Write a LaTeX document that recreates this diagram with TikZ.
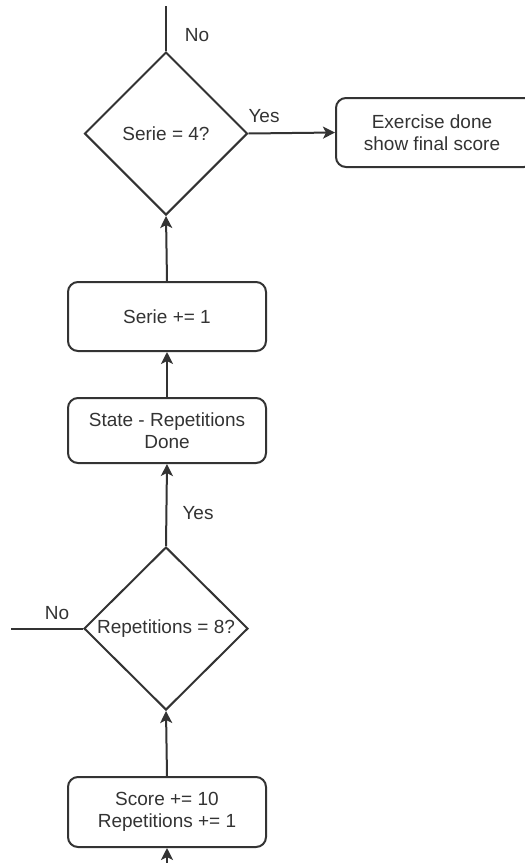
\documentclass[tikz,border=0pt]{standalone}
\usepackage{fontspec}
\setmainfont{Liberation Sans}
\usetikzlibrary{shapes.geometric,arrows.meta}
\definecolor{ink}{HTML}{333333}
\begin{document}
\begin{tikzpicture}[x=1pt,y=-1pt,
  every node/.style={text=ink,font=\fontsize{19}{22}\selectfont},
  line/.style={draw=ink,line width=2pt},
  flow/.style={line,-{Stealth[length=12pt,width=12pt,inset=3pt]}},
  procbox/.style={line,rectangle,rounded corners=10pt,align=center,inner sep=0pt},
  decision/.style={line,diamond,aspect=1,inner sep=0pt,align=center},
  lbl/.style={inner sep=0pt}]
\useasboundingbox (0,0) rectangle (525,863);
\begin{scope}
\clip (0,0) rectangle (525,863);
% decisions
\node[decision,minimum width=163pt,minimum height=163pt] (d1) at (166,133.5) {Serie = 4?};
\node[decision,minimum width=164pt,minimum height=163pt] (d2) at (166,628.5) {Repetitions = 8?};
% process boxes
\node[procbox,minimum width=198pt,minimum height=69pt,anchor=west] (done) at (335,132.5) {\hspace*{-6pt}\parbox{180pt}{\centering Exercise done\\show final score}};
\node[procbox,minimum width=198pt,minimum height=69pt] (serie) at (167,316.5) {Serie += 1};
\node[procbox,minimum width=198pt,minimum height=65pt] (state) at (167,430.5) {State - Repetitions\\Done};
\node[procbox,minimum width=198pt,minimum height=70pt] (score) at (167,812) {Score += 10\\Repetitions += 1};
% loose ends
\coordinate (topin) at (166,6);
\coordinate (noout) at (11,628.5);
\coordinate (botin) at (167,870);
% connectors
\draw[line] (topin) -- (d1.north);
\draw[flow] (d1.east) -- (done.west);
\draw[flow] (serie.north) -- (d1.south);
\draw[flow] (state.north) -- (serie.south);
\draw[flow] (d2.north) -- (state.south);
\draw[line] (d2.west) -- (noout);
\draw[flow] (score.north) -- (d2.south);
\draw[flow] (botin) -- (score.south);
% branch labels
\node[lbl] (l1) at (197,35) {No};
\node[lbl] (l2) at (264,116) {Yes};
\node[lbl] (l3) at (198,513) {Yes};
\node[lbl] (l4) at (57,613) {No};
\end{scope}
\end{tikzpicture}
\end{document}
